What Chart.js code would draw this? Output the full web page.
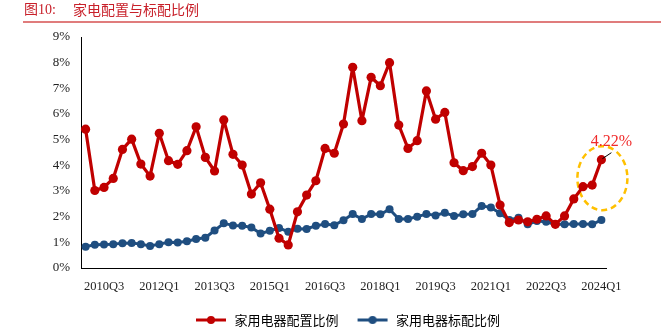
<!DOCTYPE html>
<html>
<head>
<meta charset="utf-8">
<script src="https://cdn.jsdelivr.net/npm/chart.js@4/dist/chart.umd.min.js"></script>
<style>
html,body{margin:0;padding:0;background:#fff;}
#wrap{width:661px;height:332px;position:relative;}
</style>
</head>
<body>
<div id="wrap"><canvas id="c" width="661" height="332"></canvas></div>
<script>
const categories = [
  "2010Q1","2010Q2","2010Q3","2010Q4","2011Q1","2011Q2","2011Q3","2011Q4",
  "2012Q1","2012Q2","2012Q3","2012Q4","2013Q1","2013Q2","2013Q3","2013Q4",
  "2014Q1","2014Q2","2014Q3","2014Q4","2015Q1","2015Q2","2015Q3","2015Q4",
  "2016Q1","2016Q2","2016Q3","2016Q4","2017Q1","2017Q2","2017Q3","2017Q4",
  "2018Q1","2018Q2","2018Q3","2018Q4","2019Q1","2019Q2","2019Q3","2019Q4",
  "2020Q1","2020Q2","2020Q3","2020Q4","2021Q1","2021Q2","2021Q3","2021Q4",
  "2022Q1","2022Q2","2022Q3","2022Q4","2023Q1","2023Q2","2023Q3","2023Q4",
  "2024Q1"
];
const tickLabels = ["2010Q3","2012Q1","2013Q3","2015Q1","2016Q3","2018Q1","2019Q3","2021Q1","2022Q3","2024Q1"];
const configRatio = [
  5.41,3.02,3.14,3.49,4.62,5.02,4.05,3.58,5.25,4.18,
  4.04,4.57,5.50,4.31,3.78,5.77,4.43,4.01,2.88,3.32,
  2.29,1.16,0.90,2.19,2.84,3.40,4.66,4.47,5.61,7.82,
  5.74,7.43,7.10,8.00,5.57,4.66,4.96,6.90,5.80,6.06,
  4.10,3.79,3.95,4.47,4.01,2.45,1.77,1.87,1.80,1.90,
  2.03,1.70,2.03,2.69,3.17,3.23,4.22
];
const standardRatio = [
  0.83,0.91,0.92,0.93,0.96,0.97,0.93,0.86,0.93,1.00,
  0.99,1.04,1.13,1.18,1.46,1.74,1.66,1.65,1.58,1.34,
  1.45,1.56,1.41,1.53,1.52,1.65,1.71,1.67,1.86,2.10,
  1.91,2.10,2.09,2.29,1.91,1.91,2.00,2.10,2.05,2.15,
  2.03,2.09,2.10,2.42,2.36,2.13,1.87,1.96,1.70,1.83,
  1.80,1.70,1.70,1.71,1.71,1.70,1.87
];
const seriesNames = ["家用电器配置比例","家用电器标配比例"];
const titleNo = "图10:";
const titleText = "家电配置与标配比例";

const RED = "#C00000";
const BLUE = "#1F4E80";

function legendMarker(color){
  const c = document.createElement('canvas');
  c.width = 34; c.height = 10;
  const g = c.getContext('2d');
  g.strokeStyle = color; g.lineWidth = 3;
  g.beginPath(); g.moveTo(2,5); g.lineTo(32,5); g.stroke();
  g.fillStyle = color;
  g.beginPath(); g.arc(17,5,4,0,Math.PI*2); g.fill();
  return c;
}
const markers = [legendMarker(RED), legendMarker(BLUE)];

const decor = {
  id: 'decor',
  afterLayout(chart){
    const lg = chart.legend;
    if (lg) {
      const w = lg.right - lg.left, h = lg.bottom - lg.top;
      lg.left = 177; lg.right = lg.left + w;
      lg.top = 296.5; lg.bottom = lg.top + h;
    }
  },
  beforeDatasetsDraw(chart){
    const ctx = chart.ctx;
    const xs = chart.scales.x, ys = chart.scales.y;
    const last = configRatio.length - 1;
    const cx = xs.getPixelForValue(last) + 1;
    const cy = ys.getPixelForValue(3.5);
    ctx.save();
    ctx.strokeStyle = '#FFC000';
    ctx.lineWidth = 2.5;
    ctx.setLineDash([6,4]);
    ctx.beginPath();
    ctx.ellipse(cx, cy, 25, 32, 0, 0, Math.PI*2);
    ctx.stroke();
    ctx.restore();
  },
  afterDraw(chart){
    const ctx = chart.ctx;
    ctx.save();
    ctx.fillStyle = '#C8202A';
    ctx.font = '14px "Liberation Serif", "Noto Sans CJK SC"';
    ctx.textBaseline = 'middle';
    ctx.textAlign = 'left';
    ctx.fillText(titleNo, 24, 10);
    ctx.font = '14px "Noto Sans CJK SC"';
    ctx.fillText(titleText, 73, 10);
    ctx.strokeStyle = '#D65050';
    ctx.lineWidth = 1.5;
    ctx.beginPath(); ctx.moveTo(23, 22); ctx.lineTo(661, 22); ctx.stroke();

    const xs = chart.scales.x, ys = chart.scales.y;
    const last = configRatio.length - 1;
    const px = xs.getPixelForValue(last), py = ys.getPixelForValue(configRatio[last]);
    ctx.strokeStyle = '#000';
    ctx.lineWidth = 1;
    ctx.beginPath(); ctx.moveTo(px + 1, py - 1); ctx.lineTo(px + 10, py - 7); ctx.stroke();
    ctx.fillStyle = '#F02A2A';
    ctx.font = '16px "Liberation Serif"';
    ctx.textAlign = 'center';
    ctx.fillText(configRatio[last].toFixed(2) + '%', px + 10, py - 18);
    ctx.restore();
  }
};

new Chart(document.getElementById('c'), {
  type: 'line',
  data: {
    labels: categories,
    datasets: [
      { label: seriesNames[0], data: configRatio, borderColor: RED, backgroundColor: RED,
        borderWidth: 3.2, borderJoinStyle: 'round', borderCapStyle: 'round',
        pointRadius: 4.6, pointBackgroundColor: RED, pointBorderWidth: 0, tension: 0 },
      { label: seriesNames[1], data: standardRatio, borderColor: BLUE, backgroundColor: BLUE,
        borderWidth: 3, borderJoinStyle: 'round', borderCapStyle: 'round',
        pointRadius: 4, pointBackgroundColor: BLUE, pointBorderWidth: 0, tension: 0 }
    ]
  },
  options: {
    responsive: false,
    animation: false,
    devicePixelRatio: 1,
    layout: { padding: { top: 37, right: 55, left: 0, bottom: 0 } },
    plugins: {
      title: { display: false },
      tooltip: { enabled: false },
      legend: {
        position: 'bottom',
        align: 'start',
        labels: {
          usePointStyle: true,
          pointStyleWidth: 34,
          padding: 17,
          color: '#222',
          font: { family: '"Noto Sans CJK SC"', size: 13 },
          generateLabels(chart){
            return chart.data.datasets.map((ds, i) => ({
              text: ds.label, pointStyle: markers[i], fillStyle: ds.borderColor,
              strokeStyle: ds.borderColor, lineWidth: 0, datasetIndex: i, hidden: false
            }));
          }
        }
      }
    },
    scales: {
      x: {
        offset: true,
        grid: { display: false, drawTicks: false },
        border: { display: true, color: '#000', width: 1 },
        afterFit(scale){ scale.height = 24; },
        ticks: {
          autoSkip: false, maxRotation: 0, minRotation: 0, padding: 11,
          color: '#222',
          font: { family: '"Liberation Serif"', size: 12.5 },
          callback(value, index){
            const lab = categories[index];
            return tickLabels.includes(lab) ? lab : '';
          }
        }
      },
      y: {
        min: 0, max: 9,
        grid: { display: false, drawTicks: false },
        border: { display: true, color: '#000', width: 1 },
        afterFit(scale){ scale.width = 81; },
        ticks: {
          stepSize: 1, padding: 11,
          color: '#222',
          font: { family: '"Liberation Serif"', size: 13 },
          callback(v){ return v + '%'; }
        }
      }
    }
  },
  plugins: [decor]
});
</script>
</body>
</html>
